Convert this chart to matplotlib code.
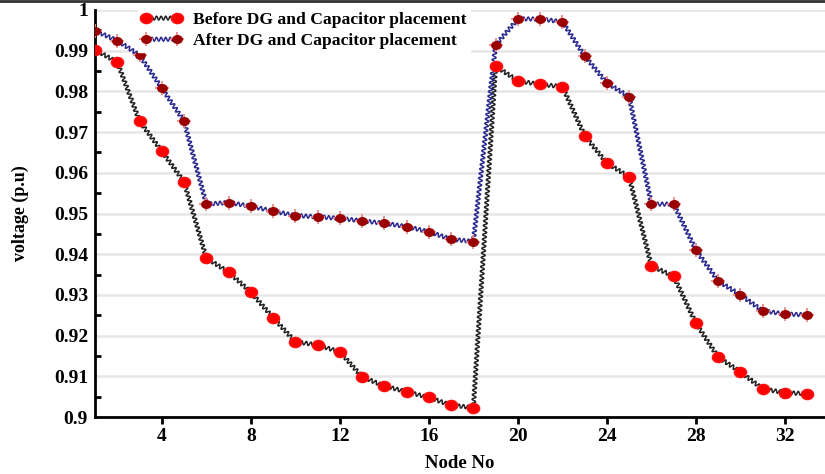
import numpy as np
import matplotlib
matplotlib.use("Agg")
import matplotlib.pyplot as plt
from matplotlib.path import Path
from matplotlib.patheffects import AbstractPathEffect
from matplotlib.transforms import IdentityTransform
from matplotlib.legend_handler import HandlerTuple
from matplotlib.lines import Line2D
from matplotlib.ticker import MultipleLocator

# Bus voltage profile of the 33-node feeder
nodes = list(range(1, 34))
before = [0.9902, 0.9872, 0.9727, 0.9653, 0.9578, 0.9391, 0.9356, 0.9307,
          0.9244, 0.9185, 0.9177, 0.9160, 0.9099, 0.9076, 0.9062, 0.9048,
          0.9029, 0.9023, 0.9862, 0.9826, 0.9817, 0.9812, 0.9691, 0.9624,
          0.9590, 0.9371, 0.9346, 0.9230, 0.9147, 0.9111, 0.9069, 0.9060,
          0.9057]
after = [0.9949, 0.9925, 0.9889, 0.9808, 0.9727, 0.9523, 0.9527, 0.9518,
         0.9506, 0.9495, 0.9492, 0.9488, 0.9482, 0.9476, 0.9468, 0.9455,
         0.9437, 0.9431, 0.9914, 0.9978, 0.9978, 0.9971, 0.9887, 0.9821,
         0.9787, 0.9523, 0.9523, 0.9410, 0.9334, 0.9300, 0.9261, 0.9253,
         0.9251]
x_ticks = [4, 8, 12, 16, 20, 24, 28, 32]
y_ticks = [0.90, 0.91, 0.92, 0.93, 0.94, 0.95, 0.96, 0.97, 0.98, 0.99, 1.00]
y_tick_labels = ["0.9", "0.91", "0.92", "0.93", "0.94", "0.95", "0.96",
                 "0.97", "0.98", "0.99", "1"]
labels = ["Before DG and Capacitor placement",
          "After DG and Capacitor placement"]


class WavyStroke(AbstractPathEffect):
    """Strokes a path as a small sine wave running along it."""

    def __init__(self, period=3.3, amplitude=1.4):
        super().__init__()
        self.period = period
        self.amplitude = amplitude

    def draw_path(self, renderer, gc, tpath, affine, rgbFace=None):
        verts = affine.transform(tpath.vertices)
        verts = verts[np.all(np.isfinite(verts), axis=1)]
        if len(verts) < 2:
            return
        period = renderer.points_to_pixels(self.period)
        amp = renderer.points_to_pixels(self.amplitude)
        seg = np.diff(verts, axis=0)
        seglen = np.hypot(seg[:, 0], seg[:, 1])
        cum = np.concatenate([[0.0], np.cumsum(seglen)])
        total = cum[-1]
        n = max(int(total / (period / 10.0)) + 1, 2)
        s = np.linspace(0.0, total, n)
        idx = np.clip(np.searchsorted(cum, s, side="right") - 1, 0, len(seg) - 1)
        safe = np.where(seglen[idx] > 0, seglen[idx], 1.0)
        t = (s - cum[idx]) / safe
        pts = verts[idx] + seg[idx] * t[:, None]
        tang = seg[idx] / safe[:, None]
        normal = np.column_stack([-tang[:, 1], tang[:, 0]])
        pts = pts + normal * (amp * np.sin(2 * np.pi * s / period))[:, None]
        renderer.draw_path(gc, Path(pts), IdentityTransform(), None)


def ellipse_marker(ratio):
    circ = Path.unit_circle()
    v = circ.vertices.copy()
    v[:, 0] *= ratio
    return Path(v, circ.codes)


serif = ["Liberation Serif", "DejaVu Serif"]
plt.rcParams["font.family"] = serif
plt.rcParams["font.weight"] = "bold"

fig = plt.figure(figsize=(8.25, 4.74), dpi=100)
ax = fig.add_axes([95 / 825, 57 / 474, 730 / 825, 407 / 474])

ax.set_xlim(1, 33.8)
ax.set_ylim(0.9, 1.0)

ax.yaxis.grid(True, color="#e6e6e6", linewidth=1.8, zorder=0)
ax.set_axisbelow(True)

wave = [WavyStroke()]
l_before, = ax.plot(nodes, before, color="#222222", linewidth=1.1,
                    path_effects=wave, zorder=3)
l_after, = ax.plot(nodes, after, color="#2a2a90", linewidth=1.1,
                   path_effects=wave, zorder=3)

m_before, = ax.plot(nodes, before, linestyle="none",
                    marker=ellipse_marker(1.2), markersize=8.8,
                    color="#ff0000", markeredgecolor="#ff1010", zorder=4)
m_after_cross, = ax.plot(nodes, after, linestyle="none", marker="+",
                         markersize=10.5, markeredgewidth=1.3,
                         color="#ec8a8a", zorder=4)
m_after, = ax.plot(nodes, after, linestyle="none",
                   marker=ellipse_marker(1.25), markersize=6.8,
                   color="#9a0000", markeredgecolor="#9a0000", zorder=5)

ax.set_xticks(x_ticks)
ax.set_yticks(y_ticks)
ax.set_yticklabels(y_tick_labels)
ax.yaxis.set_minor_locator(MultipleLocator(0.005))

ax.tick_params(axis="x", which="major", direction="out", length=5,
               width=2, labelsize=14, pad=3, color="black")
ax.tick_params(axis="y", which="major", length=0, labelsize=14, pad=5)
ax.tick_params(axis="y", which="minor", direction="in", length=4, width=2)
for lbl in ax.get_xticklabels() + ax.get_yticklabels():
    lbl.set_fontweight("bold")

for side in ("top", "right"):
    ax.spines[side].set_visible(False)
for side in ("left", "bottom"):
    ax.spines[side].set_linewidth(2)
    ax.spines[side].set_color("black")

ax.set_xlabel("Node No", fontsize=13.5, fontweight="bold")
ax.set_ylabel("voltage (p.u)", fontsize=13, fontweight="bold")
ax.xaxis.set_label_coords(0.5, -0.093)
ax.yaxis.set_label_coords(-0.091, 0.5)

leg = ax.legend([(l_before, m_before), (l_after, m_after_cross, m_after)],
                labels, handler_map={tuple: HandlerTuple(ndivide=1)},
                loc="upper left", bbox_to_anchor=(138 / 825, 1 - 9 / 474),
                bbox_transform=fig.transFigure, numpoints=2,
                prop={"family": serif, "weight": "bold", "size": 12.6},
                handlelength=2.35, handletextpad=0.65, labelspacing=0.28,
                borderpad=0.17, borderaxespad=0, frameon=True,
                facecolor="white", edgecolor="white", framealpha=1,
                fancybox=False)
leg.set_zorder(6)

# thin frame line along the top edge of the image
fig.add_artist(Line2D([0, 1], [1 - 1.2 / 474, 1 - 1.2 / 474],
                      transform=fig.transFigure, color="#333333",
                      linewidth=2))

fig.savefig("out.png", dpi=100)
